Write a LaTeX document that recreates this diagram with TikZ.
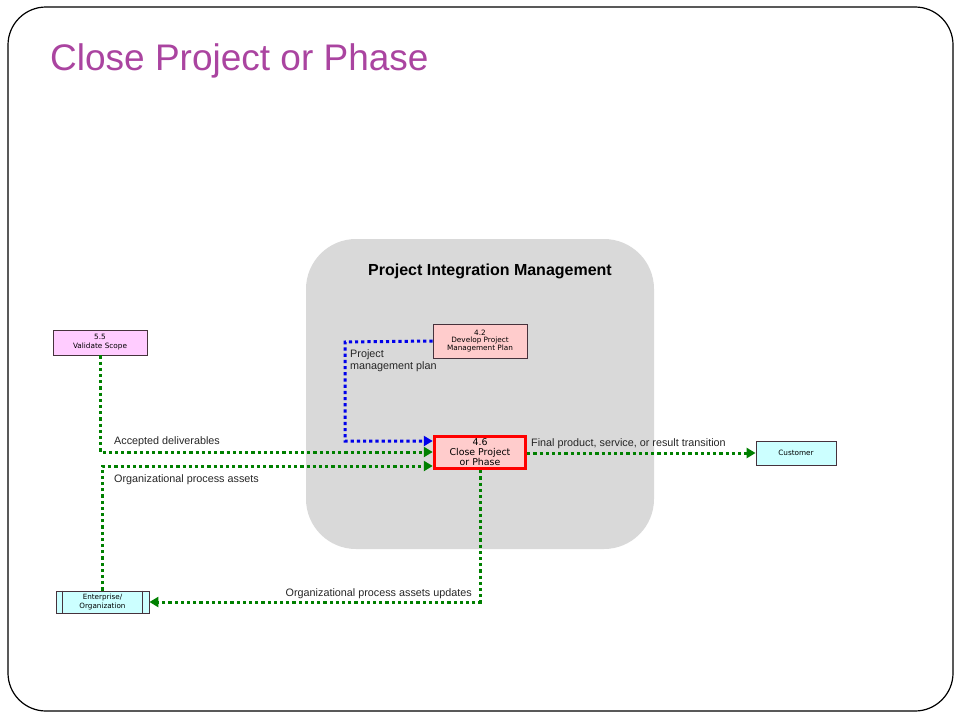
\documentclass[tikz,border=0pt]{standalone}
\usepackage{fontspec}
\setmainfont{Liberation Sans}
\newfontfamily\boxfont{DejaVu Sans}
\usetikzlibrary{arrows.meta}
\definecolor{titlec}{RGB}{170,68,160}
\definecolor{areagray}{RGB}{217,217,217}
\definecolor{pinkfill}{RGB}{255,204,204}
\definecolor{violfill}{RGB}{255,204,255}
\definecolor{cyanfill}{RGB}{204,255,255}
\definecolor{gline}{RGB}{0,128,0}
\definecolor{bline}{RGB}{0,0,235}
\definecolor{boxborder}{RGB}{70,50,60}
\tikzset{
  procbox/.style={draw=boxborder, line width=0.8pt, inner sep=0pt, align=center,
    font=\boxfont\fontsize{7.3}{7.9}\selectfont},
  mainbox/.style={draw=red, line width=3.5pt, fill=pinkfill, inner sep=0pt, align=center,
    minimum width=91pt, minimum height=32pt, font=\boxfont\fontsize{9.4}{10}\selectfont},
  flowg/.style={draw=gline, line width=3pt, dash pattern=on 3.2pt off 3pt,
    -{Triangle[length=9pt,width=10pt]}},
  flowb/.style={draw=bline, line width=3pt, dash pattern=on 3.2pt off 3pt,
    -{Triangle[length=9pt,width=10pt]}},
  flowlabel/.style={font=\fontsize{10.8}{12}\selectfont, inner sep=0pt, text=black!85}
}
\begin{document}
\begin{tikzpicture}[x=1pt,y=-1pt]
\useasboundingbox (0,0) rectangle (960,720);
% slide frame
\draw[line width=1.2pt, rounded corners=38pt] (8,7) rectangle (953,711);
% title
\node[anchor=west, text=titlec, font=\fontsize{37}{40}\selectfont, inner sep=0pt] (title) at (50,61) {Close Project or Phase};
% knowledge area background
\fill[areagray, rounded corners=50pt] (306,239) rectangle (654,549);
\node[font=\bfseries\fontsize{16}{18}\selectfont, inner sep=0pt] (area) at (490,271.5) {Project Integration Management};

% nodes
\node[procbox, fill=violfill, minimum width=94pt, minimum height=25pt,
  font=\boxfont\fontsize{7.3}{9}\selectfont] (vs) at (100,342.5) {5.5\\Validate Scope};
\node[procbox, fill=pinkfill, minimum width=94pt, minimum height=34pt] (dp) at (480,341) {4.2\\Develop Project\\Management Plan};
\node[mainbox] (cp) at (480,452.5) {4.6\\Close Project\\or Phase};
\node[procbox, fill=cyanfill, minimum width=80pt, minimum height=24pt] (cu) at (796,453) {Customer};
\node[procbox, fill=cyanfill, minimum width=93pt, minimum height=22pt,
  font=\boxfont\fontsize{7.2}{9.5}\selectfont] (ent) at (102.5,602) {Enterprise/\\Organization};
\draw[boxborder, line width=0.8pt] ([xshift=7pt]ent.north west) -- ([xshift=7pt]ent.south west);
\draw[boxborder, line width=0.8pt] ([xshift=-7pt]ent.north east) -- ([xshift=-7pt]ent.south east);

% connectors
\coordinate (bend) at (345,342);
\draw[flowb] (dp.west) -- (bend) |- ([yshift=11.5pt]cp.west);
\draw[flowg] (vs.south) |- ([yshift=0.5pt]cp.west);
\draw[flowg] (ent.north) |- ([yshift=-13.5pt]cp.west);
\draw[flowg] (cp.east |- cu.west) -- (cu.west);
\draw[flowg] (cp.south) |- (ent.east);

% labels
\node[flowlabel, anchor=west] (l1) at (114,442) {Accepted deliverables};
\node[flowlabel, anchor=west] (l2) at (114,480) {Organizational process assets};
\node[flowlabel, anchor=west] (l3) at (531,444) {Final product, service, or result transition};
\node[flowlabel, anchor=east] (l4) at (472,594) {Organizational process assets updates};
\node[flowlabel, anchor=north west, align=left] (l5) at (350,349) {Project\\management plan};
\end{tikzpicture}
\end{document}
